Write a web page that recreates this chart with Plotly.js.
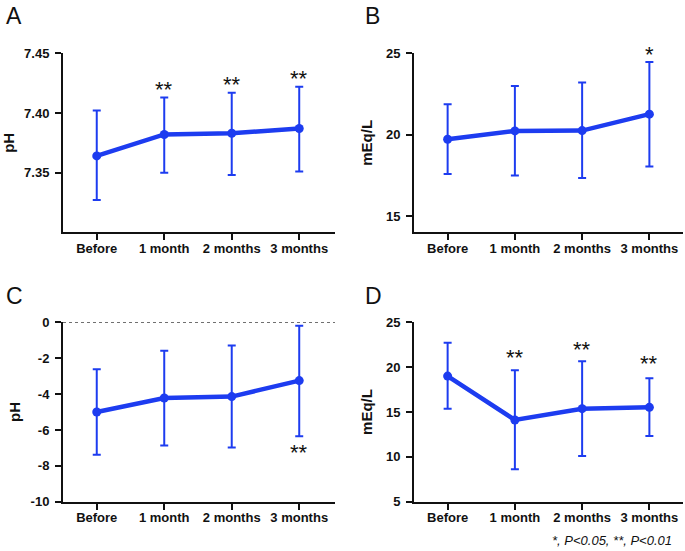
<!DOCTYPE html>
<html><head><meta charset="utf-8">
<script src="https://cdn.plot.ly/plotly-3.0.1.min.js"></script>
<style>body{margin:0;padding:0;background:#fff}#chart{width:685px;height:551px}</style>
</head><body><div id="chart"></div>
<script>
const categories = ['Before', '1 month', '2 months', '3 months'];

const meanA = [7.364, 7.382, 7.383, 7.387];
const upperA = [7.402, 7.413, 7.417, 7.422];
const lowerA = [7.327, 7.350, 7.348, 7.351];
const starsA = ['', '**', '**', '**'];
const starYA = [null, 7.4225, 7.4272, 7.4317];

const meanB = [19.72, 20.23, 20.25, 21.26];
const upperB = [21.87, 22.99, 23.20, 24.47];
const lowerB = [17.58, 17.49, 17.33, 18.04];
const starsB = ['', '', '', '*'];
const starYB = [null, null, null, 25.12];

const meanC = [-5.00, -4.22, -4.14, -3.25];
const upperC = [-2.62, -1.58, -1.30, -0.19];
const lowerC = [-7.38, -6.87, -6.98, -6.35];
const starsC = ['', '', '', '**'];
const starYC = [null, null, null, -7.05];

const meanD = [19.0, 14.11, 15.37, 15.52];
const upperD = [22.73, 19.65, 20.65, 18.76];
const lowerD = [15.37, 8.61, 10.10, 12.32];
const starsD = ['', '**', '**', '**'];
const starYD = [null, 21.48, 22.40, 20.82];

const panelLetters = ['A', 'B', 'C', 'D'];
const yTitles = ['pH', 'mEq/L', 'pH', 'mEq/L'];
const footnote = '*, <i>P</i>&lt;0.05, **, <i>P</i>&lt;0.01';

const BLUE = '#1d3cf0';
const W = 685, H = 551;
const px = v => v / W;
const py = v => 1 - v / H;

const yRanges = [[7.30, 7.45], [14, 25], [-10, 0], [5, 25]];
const topPx = [53.3, 232.3], botPx = [322.3, 501.7];

const panels = [
  {mean: meanA, up: upperA, lo: lowerA, stars: starsA, starY: starYA, xs: 'x', ys: 'y', yr: yRanges[0], pxr: topPx},
  {mean: meanB, up: upperB, lo: lowerB, stars: starsB, starY: starYB, xs: 'x2', ys: 'y2', yr: yRanges[1], pxr: topPx},
  {mean: meanC, up: upperC, lo: lowerC, stars: starsC, starY: starYC, xs: 'x3', ys: 'y3', yr: yRanges[2], pxr: botPx},
  {mean: meanD, up: upperD, lo: lowerD, stars: starsD, starY: starYD, xs: 'x4', ys: 'y4', yr: yRanges[3], pxr: botPx}
];

const traces = panels.map(p => ({
  type: 'scatter', mode: 'lines+markers',
  x: [0, 1, 2, 3], y: p.mean, xaxis: p.xs, yaxis: p.ys,
  line: {color: BLUE, width: 4.5},
  marker: {color: BLUE, size: 9},
  error_y: {type: 'data', symmetric: false,
    array: p.up.map((u, i) => u - p.mean[i]),
    arrayminus: p.mean.map((m, i) => m - p.lo[i]),
    color: BLUE, thickness: 2, width: 4},
  showlegend: false, hoverinfo: 'skip'
}));

const FONT = 'Liberation Sans, Arial, sans-serif';
const tickFont = {family: FONT, size: 13, color: '#111', weight: 'bold'};
function xax(dom, range) {
  return {domain: dom, range: range, tickmode: 'array', tickvals: [0, 1, 2, 3], ticktext: categories,
    showline: true, linecolor: '#111', linewidth: 2, ticks: 'outside', ticklen: 6, tickwidth: 2,
    tickcolor: '#111', showgrid: false, zeroline: false, tickfont: tickFont, ticklabelstandoff: -3, fixedrange: true};
}
function yax(dom, range, vals, text, title, standoff) {
  return {domain: dom, range: range, tickmode: 'array', tickvals: vals, ticktext: text,
    showline: true, linecolor: '#111', linewidth: 2, ticks: 'outside', ticklen: 6, tickwidth: 2,
    tickcolor: '#111', showgrid: false, zeroline: false, tickfont: tickFont, ticklabelstandoff: 3,
    title: {text: '<b>' + title + '</b>', font: {family: FONT, size: 15, color: '#111'}, standoff: standoff},
    fixedrange: true};
}

const topDom = [py(topPx[1]), py(topPx[0])];
const botDom = [py(botPx[1]), py(botPx[0])];
const leftX = [px(63), px(335)];
const rightX = [px(414), px(683)];

const annotations = [];
panels.forEach((p) => {
  const pxPerUnit = (p.pxr[1] - p.pxr[0]) / (p.yr[1] - p.yr[0]);
  p.stars.forEach((s, i) => {
    if (!s) return;
    const v = p.starY[i];
    const clamped = Math.min(v, p.yr[1]);
    annotations.push({xref: p.xs, yref: p.ys, x: i, y: clamped, text: s, showarrow: false,
      yanchor: 'middle', yshift: -3.5 + (v - clamped) * pxPerUnit,
      font: {family: FONT, size: 22, color: '#111'}});
  });
});
const letterPos = [[4, 16], [363, 16], [4, 296], [363, 296]];
panelLetters.forEach((L, i) => {
  annotations.push({xref: 'paper', yref: 'paper', x: px(letterPos[i][0]), y: py(letterPos[i][1]),
    xanchor: 'left', yanchor: 'middle', text: L, showarrow: false,
    font: {family: FONT, size: 23, color: '#111'}});
});
annotations.push({xref: 'paper', yref: 'paper', x: px(674), y: py(540), xanchor: 'right', yanchor: 'middle',
  text: '<i>' + footnote + '</i>', showarrow: false,
  font: {family: FONT, size: 13, color: '#111'}});

const layout = {
  width: W, height: H, margin: {l: 0, r: 0, t: 0, b: 0},
  paper_bgcolor: '#fff', plot_bgcolor: '#fff',
  xaxis: Object.assign(xax(leftX, [-0.5, 3.53]), {anchor: 'y'}),
  yaxis: Object.assign(yax(topDom, yRanges[0], [7.35, 7.40, 7.45], ['7.35', '7.40', '7.45'], yTitles[0], 6), {anchor: 'x'}),
  xaxis2: Object.assign(xax(rightX, [-0.5, 3.5]), {anchor: 'y2'}),
  yaxis2: Object.assign(yax(topDom, yRanges[1], [15, 20, 25], ['15', '20', '25'], yTitles[1], 10), {anchor: 'x2'}),
  xaxis3: Object.assign(xax(leftX, [-0.5, 3.53]), {anchor: 'y3'}),
  yaxis3: Object.assign(yax(botDom, yRanges[2], [-10, -8, -6, -4, -2, 0], ['-10', '-8', '-6', '-4', '-2', '0'], yTitles[2], 6), {anchor: 'x3'}),
  xaxis4: Object.assign(xax(rightX, [-0.5, 3.5]), {anchor: 'y4'}),
  yaxis4: Object.assign(yax(botDom, yRanges[3], [5, 10, 15, 20, 25], ['5', '10', '15', '20', '25'], yTitles[3], 10), {anchor: 'x4'}),
  shapes: [{type: 'line', xref: 'x3 domain', yref: 'y3', x0: 0, x1: 1, y0: 0, y1: 0,
    line: {color: '#111', width: 1, dash: 'dot'}}],
  annotations: annotations
};

Plotly.newPlot('chart', traces, layout, {displayModeBar: false, staticPlot: true});
</script></body></html>
